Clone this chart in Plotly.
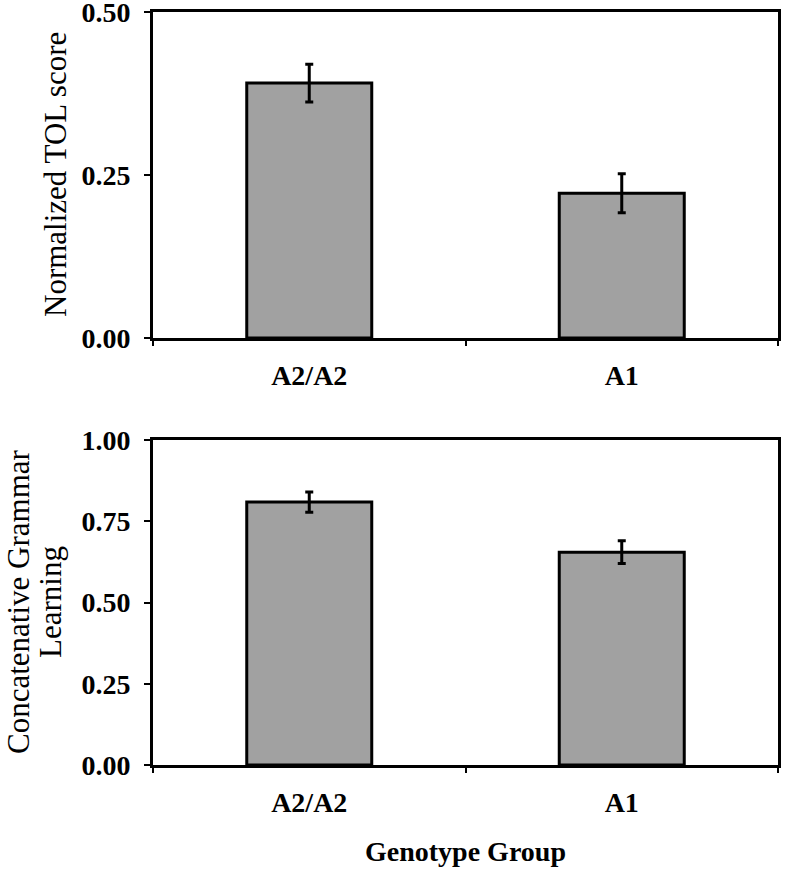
import plotly.graph_objects as go
from plotly.subplots import make_subplots

categories = ["A2/A2", "A1"]
tol_values = [0.391, 0.222]
tol_errors = [0.029, 0.030]
cgl_values = [0.809, 0.655]
cgl_errors = [0.031, 0.035]
tol_ticks = [0.0, 0.25, 0.5]
cgl_ticks = [0.0, 0.25, 0.5, 0.75, 1.0]

FONT = "Liberation Serif, Times New Roman, serif"
BAR_COLOR = "#a1a1a1"

W, H = 796, 873
ML, MR, MT, MB = 153, 18, 12, 108
PW, PH = W - ML - MR, H - MT - MB


def px_x(x):
    return (x - ML) / PW


def px_y(y):
    return (H - MB - y) / PH


fig = make_subplots(rows=2, cols=1, vertical_spacing=0.1)

for row, vals, errs in [(1, tol_values, tol_errors), (2, cgl_values, cgl_errors)]:
    fig.add_trace(
        go.Bar(
            x=categories,
            y=vals,
            width=0.4,
            marker=dict(color=BAR_COLOR, line=dict(color="black", width=3)),
            error_y=dict(type="data", array=errs, visible=True, color="black",
                         thickness=3, width=4),
            showlegend=False,
        ),
        row=row, col=1,
    )

axis_common = dict(
    showline=True, linecolor="black", linewidth=3, mirror=True,
    showgrid=False, zeroline=False, automargin=False,
)

fig.update_xaxes(
    **axis_common,
    ticks="outside", tickson="boundaries", ticklen=5, tickwidth=2, tickcolor="black",
    tickfont=dict(family=FONT, size=28, color="black", weight="bold"),
    ticklabelstandoff=10,
)
fig.update_yaxes(
    **axis_common,
    ticks="outside", ticklen=6, tickwidth=2, tickcolor="black",
    tickfont=dict(family=FONT, size=28, color="black", weight="bold"),
    ticklabelstandoff=8, ticklabeloverflow="allow",
)
fig.update_yaxes(range=[0, 0.5], tickvals=tol_ticks, tickformat=".2f", row=1, col=1)
fig.update_yaxes(range=[0, 1.0], tickvals=cgl_ticks, tickformat=".2f", row=2, col=1)

fig.update_layout(
    width=W, height=H,
    margin=dict(l=ML, r=MR, t=MT, b=MB, autoexpand=False),
    plot_bgcolor="white", paper_bgcolor="white",
    bargap=0.6,
    yaxis=dict(domain=[px_y(338), 1.0]),
    yaxis2=dict(domain=[0.0, px_y(440)]),
    annotations=[
        dict(text="Normalized TOL score", xref="paper", yref="paper",
             x=px_x(55), y=px_y(175), textangle=-90, showarrow=False,
             xanchor="center", yanchor="middle",
             font=dict(family=FONT, size=31, color="black")),
        dict(text="Concatenative Grammar", xref="paper", yref="paper",
             x=px_x(18), y=px_y(602), textangle=-90, showarrow=False,
             xanchor="center", yanchor="middle",
             font=dict(family=FONT, size=31, color="black")),
        dict(text="Learning", xref="paper", yref="paper",
             x=px_x(50), y=px_y(602), textangle=-90, showarrow=False,
             xanchor="center", yanchor="middle",
             font=dict(family=FONT, size=31, color="black")),
        dict(text="<b>Genotype Group</b>", xref="paper", yref="paper",
             x=0.5, y=px_y(852), showarrow=False, xanchor="center", yanchor="middle",
             font=dict(family=FONT, size=28, color="black")),
    ],
)

fig.write_html("out.html", config={"displayModeBar": False},
               post_script="document.body.style.margin='0px';")
